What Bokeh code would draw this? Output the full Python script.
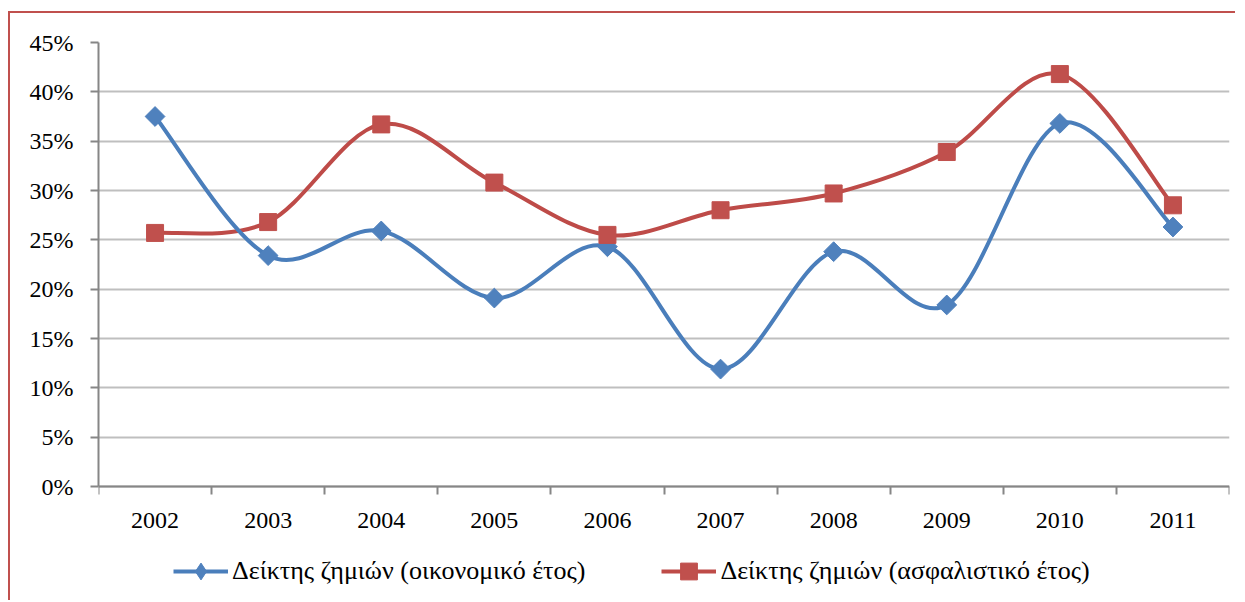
import numpy as np
from bokeh.plotting import figure
from bokeh.models import (FixedTicker, PrintfTickFormatter, Range1d, Legend, LegendItem,
                          ColumnDataSource)
from bokeh.embed import file_html
from bokeh.resources import INLINE

years = ["2002", "2003", "2004", "2005", "2006", "2007", "2008", "2009", "2010", "2011"]
fiscal = [37.5, 23.4, 25.9, 19.1, 24.3, 11.9, 23.8, 18.4, 36.8, 26.3]
insurance = [25.7, 26.8, 36.7, 30.8, 25.5, 28.0, 29.7, 33.9, 41.8, 28.5]
y_ticks = [0, 5, 10, 15, 20, 25, 30, 35, 40, 45]

label_fiscal = "Δείκτης ζημιών (οικονομικό έτος)"
label_ins = "Δείκτης ζημιών (ασφαλιστικό έτος)"

BLUE_LINE = "#4A7EBB"
BLUE_MK = "#4F81BD"
RED_LINE = "#BE4B48"
RED_MK = "#C0504D"
FONT = "Liberation Serif"

W, H = 1227, 589
TOP, LEFT, RIGHT = 29, 88, 8
PLOT_H = 444          # pixel height of the 0..45 % band
frame_h = H - TOP     # frame reaches the bottom; axis labels + legend live inside it
y_lo = y_ticks[0] - (frame_h - PLOT_H) / PLOT_H * (y_ticks[-1] - y_ticks[0])

xs = np.arange(len(years)) + 0.5


def smooth(x, y):
    x = np.asarray(x, float)
    y = np.asarray(y, float)
    xp = np.concatenate([[x[0]], x, [x[-1]]])
    yp = np.concatenate([[y[0]], y, [y[-1]]])
    n = len(x)
    d = {"x0": [], "y0": [], "x1": [], "y1": [], "cx0": [], "cy0": [], "cx1": [], "cy1": []}
    for i in range(n - 1):
        p0x, p0y = xp[i], yp[i]
        p1x, p1y = xp[i + 1], yp[i + 1]
        p2x, p2y = xp[i + 2], yp[i + 2]
        p3x, p3y = xp[i + 3], yp[i + 3]
        d["x0"].append(p1x); d["y0"].append(p1y)
        d["x1"].append(p2x); d["y1"].append(p2y)
        d["cx0"].append(p1x + (p2x - p0x) / 6); d["cy0"].append(p1y + (p2y - p0y) / 6)
        d["cx1"].append(p2x - (p3x - p1x) / 6); d["cy1"].append(p2y - (p3y - p1y) / 6)
    return ColumnDataSource(d)


p = figure(width=W, height=H, output_backend="svg", toolbar_location=None,
           x_range=Range1d(0, len(years)), y_range=Range1d(y_lo, y_ticks[-1]),
           min_border_left=LEFT, min_border_right=RIGHT, min_border_top=TOP, min_border_bottom=0)
p.styles = {"border-top": "2px solid #C0504D", "border-left": "2px solid #C0504D",
            "margin-left": "8px", "margin-top": "11px"}

p.outline_line_color = None
p.background_fill_color = "white"
p.border_fill_color = "white"
p.xgrid.grid_line_color = None
p.ygrid.ticker = FixedTicker(ticks=y_ticks, minor_ticks=[])
p.ygrid.grid_line_color = "#BFBFBF"
p.ygrid.grid_line_width = 2

# x axis, drawn at the 0 % line
xa = p.xaxis[0]
xa.fixed_location = 0
xa.ticker = FixedTicker(ticks=list(xs), minor_ticks=list(range(len(years) + 1)))
xa.major_label_overrides = {float(v): yr for v, yr in zip(xs, years)}
xa.major_tick_out = 0
xa.major_tick_in = 0
xa.minor_tick_out = 8
xa.minor_tick_in = 0
xa.minor_tick_line_color = "#868686"
xa.minor_tick_line_width = 2
xa.axis_line_color = "#868686"
xa.axis_line_width = 2
xa.major_label_standoff = 18
xa.major_label_text_font = FONT
xa.major_label_text_font_size = "24px"
xa.major_label_text_color = "black"

# y axis
ya = p.yaxis[0]
ya.bounds = (y_ticks[0], y_ticks[-1])
ya.ticker = FixedTicker(ticks=y_ticks, minor_ticks=[])
ya.formatter = PrintfTickFormatter(format="%d%%")
ya.major_tick_out = 8
ya.major_tick_in = 0
ya.major_tick_line_color = "#868686"
ya.major_tick_line_width = 2
ya.minor_tick_line_color = None
ya.axis_line_color = "#868686"
ya.axis_line_width = 2
ya.major_label_standoff = 17
ya.major_label_text_font = FONT
ya.major_label_text_font_size = "24px"
ya.major_label_text_color = "black"

# curves
p.bezier(x0="x0", y0="y0", x1="x1", y1="y1", cx0="cx0", cy0="cy0", cx1="cx1", cy1="cy1",
         source=smooth(xs, insurance), line_color=RED_LINE, line_width=4)
p.bezier(x0="x0", y0="y0", x1="x1", y1="y1", cx0="cx0", cy0="cy0", cx1="cx1", cy1="cy1",
         source=smooth(xs, fiscal), line_color=BLUE_LINE, line_width=4)

mk_b = p.scatter(xs, fiscal, marker="square", angle=np.pi / 4, size=14,
                 fill_color=BLUE_MK, line_color=BLUE_MK)
mk_r = p.scatter(xs, insurance, marker="square", size=17,
                 fill_color=RED_MK, line_color=RED_MK)

# legend proxies (one NaN point each: nothing drawn in the plot)
lg_b = p.line([xs[0]], [np.nan], line_color=BLUE_LINE, line_width=4)
lg_bm = p.scatter([xs[0]], [np.nan], marker="diamond", size=17,
                  fill_color=BLUE_MK, line_color=BLUE_MK)
lg_r = p.line([xs[0]], [np.nan], line_color=RED_LINE, line_width=4)

legend = Legend(items=[LegendItem(label=label_fiscal, renderers=[lg_b, lg_bm]),
                       LegendItem(label=label_ins, renderers=[lg_r, mk_r])],
                orientation="horizontal", location=(75, 10),
                glyph_width=55, glyph_height=42, label_standoff=4, spacing=76,
                padding=5, margin=0,
                label_text_font=FONT, label_text_font_style="normal",
                label_text_font_size="26px", label_text_color="black",
                border_line_color=None, background_fill_alpha=0)
p.add_layout(legend, "center")

open("out.html", "w").write(file_html(p, INLINE))
